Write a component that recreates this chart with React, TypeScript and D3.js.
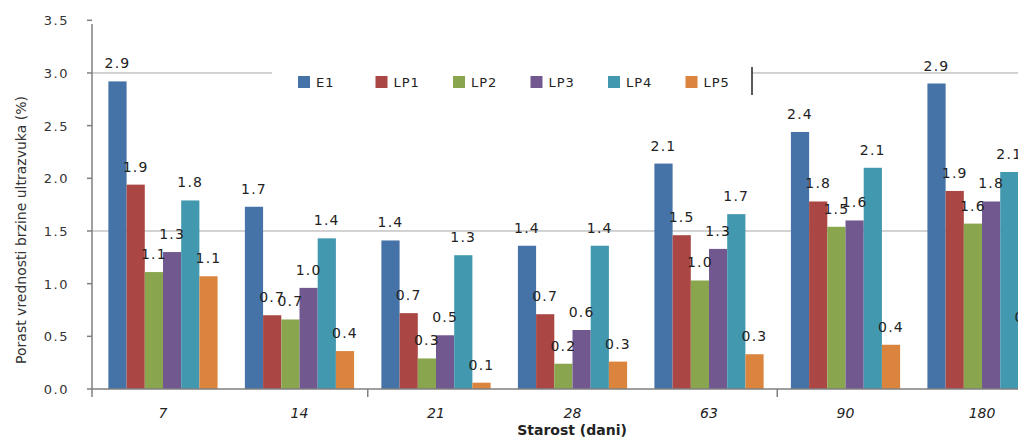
import React from "react";
import * as d3 from "d3";

const categories = ["7", "14", "21", "28", "63", "90", "180"];
const seriesNames = ["E1", "LP1", "LP2", "LP3", "LP4", "LP5"];
const seriesColors = ["#4572A7", "#AA4643", "#89A54E", "#71588F", "#4198AF", "#DB843D"];
const E1 = [2.92, 1.73, 1.41, 1.36, 2.14, 2.44, 2.9];
const LP1 = [1.94, 0.7, 0.72, 0.71, 1.46, 1.78, 1.88];
const LP2 = [1.11, 0.66, 0.29, 0.24, 1.03, 1.54, 1.57];
const LP3 = [1.3, 0.96, 0.51, 0.56, 1.33, 1.6, 1.78];
const LP4 = [1.79, 1.43, 1.27, 1.36, 1.66, 2.1, 2.06];
const LP5 = [1.07, 0.36, 0.06, 0.26, 0.33, 0.42, 0.51];
const yTicks = [0, 0.5, 1.0, 1.5, 2.0, 2.5, 3.0, 3.5];
const gridValues = [1.5, 3.0];
const yTitle = "Porast  vrednosti brzine ultrazvuka (%)";
const xTitle = "Starost (dani)";

const seriesValues = [E1, LP1, LP2, LP3, LP4, LP5];

export default function App() {
  const W = 1018, H = 439;
  const left = 92, bottom = 389, top = 20.3;
  const y = d3.scaleLinear().domain([0, 3.5]).range([bottom, top]);
  const x0 = d3.scaleBand<string>().domain(categories).range([left, 1053]).paddingInner(0.2).paddingOuter(0.12);
  const x1 = d3.scaleBand<string>().domain(seriesNames).range([0, x0.bandwidth()]);
  const step = x0.step();
  const boundary = (i: number) => (x0(categories[i]) as number) - (step * 0.2) / 2;
  const font = "'DejaVu Sans', Verdana, sans-serif";

  return (
    <svg width={W} height={H} style={{ position: "absolute", left: 0, top: 0, background: "#fff" }}>
      <rect x={0} y={0} width={W} height={H} fill="#fff" />
      {gridValues.map((g) => (
        <line key={g} x1={left} x2={W} y1={y(g)} y2={y(g)} stroke="#a6a6a6" strokeWidth={1} />
      ))}
      {/* legend box */}
      <rect x={272} y={62} width={480} height={36} fill="#fff" />
      <line x1={752} x2={752} y1={67} y2={95} stroke="#222" strokeWidth={1.5} />
      {seriesNames.map((s, i) => (
        <g key={s} transform={`translate(${298 + i * 77.5},76)`}>
          <rect x={0} y={0} width={12} height={12} fill={seriesColors[i]} />
          <text x={18} y={11} fontFamily={font} fontSize={13} letterSpacing={1} fill="#222">{s}</text>
        </g>
      ))}
      {/* bars */}
      {categories.map((c, ci) => (
        <g key={c} transform={`translate(${x0(c)},0)`}>
          {seriesNames.map((s, si) => {
            const v = seriesValues[si][ci];
            return (
              <rect key={s} x={x1(s)} y={y(v)} width={x1.bandwidth()} height={bottom - y(v)} fill={seriesColors[si]} />
            );
          })}
        </g>
      ))}
      {/* data labels */}
      {categories.map((c, ci) => (
        <g key={"l" + c} transform={`translate(${x0(c)},0)`}>
          {seriesNames.map((s, si) => {
            const v = seriesValues[si][ci];
            return (
              <text key={s} x={(x1(s) as number) + x1.bandwidth() / 2} y={y(v) - 13} textAnchor="middle"
                fontFamily={font} fontSize={14} letterSpacing={1.2} fill="#222">{v.toFixed(1)}</text>
            );
          })}
        </g>
      ))}
      {/* axes */}
      <line x1={left} x2={left} y1={24} y2={bottom + 8} stroke="#7f7f7f" strokeWidth={1.5} />
      <line x1={left} x2={W} y1={bottom} y2={bottom} stroke="#7f7f7f" strokeWidth={1.5} />
      {yTicks.map((t) => (
        <g key={t}>
          <line x1={left - 5} x2={left} y1={y(t)} y2={y(t)} stroke="#7f7f7f" strokeWidth={1.5} />
          <text x={69} y={y(t) + 5} textAnchor="end" fontFamily={font} fontSize={13} letterSpacing={1.5} fill="#333">{t.toFixed(1)}</text>
        </g>
      ))}
      {[2, 5].map((i) => (
        <line key={i} x1={boundary(i)} x2={boundary(i)} y1={bottom} y2={bottom + 8} stroke="#7f7f7f" strokeWidth={1.5} />
      ))}
      {categories.map((c) => (
        <text key={"t" + c} x={(x0(c) as number) + x0.bandwidth() / 2} y={418} textAnchor="middle"
          fontFamily={font} fontSize={14} fontStyle="italic" fill="#222">{c}</text>
      ))}
      <text x={572} y={435} textAnchor="middle" fontFamily={font} fontSize={14} fontWeight="bold" fill="#222">{xTitle}</text>
      <text transform={`translate(26,230) rotate(-90)`} textAnchor="middle" fontFamily={font} fontSize={14} fill="#333">{yTitle}</text>
    </svg>
  );
}
